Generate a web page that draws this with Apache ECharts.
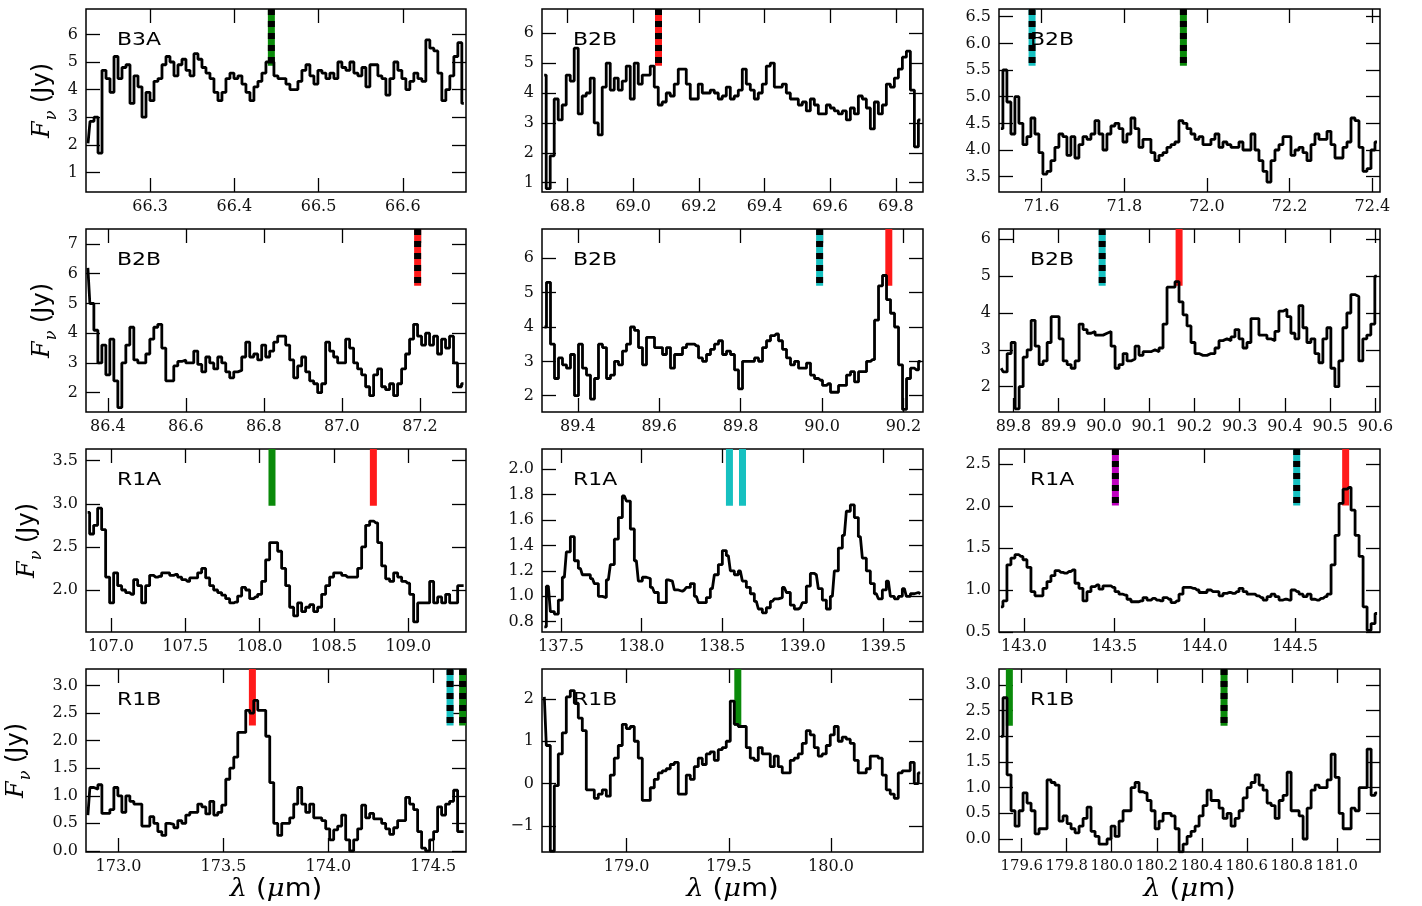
<!DOCTYPE html>
<html><head><meta charset="utf-8">
<script src="https://cdn.jsdelivr.net/npm/echarts@6/dist/echarts.min.js"></script>
<style>html,body{margin:0;padding:0;background:#fff}#c{width:1422px;height:906px}</style>
</head><body><div id="c"></div><script>
// ---------------- DATA ----------------
const panelNames = ['B3A','B2B','B2B','B2B','B2B','B2B','R1A','R1A','R1A','R1B','R1B','R1B'];
// wavelength of first bin (µm) and bin width (µm) per panel
const wlStart = [66.2264, 68.7287, 71.5016, 86.3488, 89.3181, 89.7728, 106.843, 137.3966, 142.8727, 172.854, 178.5973, 179.5081];
const wlStep  = [0.004745, 0.012195, 0.009677, 0.010243, 0.009828, 0.008832, 0.026906, 0.024819, 0.02214, 0.019048, 0.019566, 0.017778];
// axis ranges
const xMin = [66.224, 68.722, 71.497, 86.344, 89.312, 89.768, 106.832, 137.382, 142.862, 172.845, 178.586, 179.499];
const xMax = [66.675, 69.883, 72.4185, 87.318, 90.248, 90.61, 109.388, 139.746, 144.97, 174.656, 180.45, 181.192];
const yMin = [0.29, 0.69, 3.213, 1.35, 1.525, 1.313, 1.513, 0.719, 0.5, -0.02, -1.62, -0.253];
const yMax = [6.92, 6.81, 6.644, 7.505, 6.854, 6.28, 3.636, 2.16, 2.678, 3.30, 2.71, 3.31];
// tick labels
const xTicks = [
  [66.3, 66.4, 66.5, 66.6],
  [68.8, 69.0, 69.2, 69.4, 69.6, 69.8],
  [71.6, 71.8, 72.0, 72.2, 72.4],
  [86.4, 86.6, 86.8, 87.0, 87.2],
  [89.4, 89.6, 89.8, 90.0, 90.2],
  [89.8, 89.9, 90.0, 90.1, 90.2, 90.3, 90.4, 90.5, 90.6],
  [107.0, 107.5, 108.0, 108.5, 109.0],
  [137.5, 138.0, 138.5, 139.0, 139.5],
  [143.0, 143.5, 144.0, 144.5],
  [173.0, 173.5, 174.0, 174.5],
  [179.0, 179.5, 180.0],
  [179.6, 179.8, 180.0, 180.2, 180.4, 180.6, 180.8, 181.0]
];
const yTicks = [
  [1, 2, 3, 4, 5, 6],
  [1, 2, 3, 4, 5, 6],
  [3.5, 4.0, 4.5, 5.0, 5.5, 6.0, 6.5],
  [2, 3, 4, 5, 6, 7],
  [2, 3, 4, 5, 6],
  [2, 3, 4, 5, 6],
  [2.0, 2.5, 3.0, 3.5],
  [0.8, 1.0, 1.2, 1.4, 1.6, 1.8, 2.0],
  [0.5, 1.0, 1.5, 2.0, 2.5],
  [0.0, 0.5, 1.0, 1.5, 2.0, 2.5, 3.0],
  [-1, 0, 1, 2],
  [0.0, 0.5, 1.0, 1.5, 2.0, 2.5, 3.0]
];
const yDecimals = [0, 0, 1, 0, 0, 0, 1, 1, 1, 1, 0, 1];

// flux density (Jy) per bin
const fluxB3A66 = [2.05,2.85,3.0,1.7,4.7,4.4,3.9,5.2,4.4,4.8, 4.9,3.5,4.5,4.1,3.0,3.9,3.6,4.3,4.4,4.9, 5.2,5.0,4.5,4.9,5.1,4.7,4.5,5.3,5.1,4.8, 4.6,4.4,3.9,3.6,3.9,4.4,4.6,4.4,4.5,4.2, 3.9,3.6,4.1,4.3,4.6,5.0,5.0,4.5,4.4,4.4, 4.2,4.0,4.0,4.3,4.7,4.9,4.5,4.2,4.7,4.6, 4.4,4.6,4.4,5.0,4.8,4.7,5.0,4.6,4.5,4.8, 4.1,4.9,4.9,4.5,4.4,3.8,4.4,5.0,4.7,4.4, 4.0,4.3,4.6,4.4,4.3,5.8,5.5,5.4,4.6,3.6, 4.0,4.5,5.2,5.7,3.5];
const fluxB2B69 = [4.6,0.8,1.9,3.8,3.1,3.6,4.6,4.4,5.5,3.3, 3.9,4.0,4.5,3.0,2.6,4.2,5.0,4.1,4.5,4.1, 4.4,4.9,3.8,5.0,4.3,4.6,4.6,4.9,4.2,3.6, 3.7,4.0,3.9,4.3,4.8,4.8,4.3,3.8,3.8,4.3, 4.0,4.0,4.1,4.0,3.8,3.9,4.2,3.8,3.9,4.1, 4.8,4.3,4.1,3.8,4.0,4.3,4.9,5.0,4.2,4.2, 4.3,4.0,3.8,3.8,3.6,3.7,3.4,3.8,3.6,3.3, 3.3,3.6,3.5,3.4,3.3,3.4,3.1,3.5,3.3,3.9, 3.8,3.5,2.8,3.7,3.3,3.6,4.3,4.2,4.5,4.8, 5.2,5.4,4.1,2.2,3.1];
const fluxB2B71 = [4.4,5.5,4.9,4.3,5.0,4.5,4.1,4.25,4.6,4.3, 3.95,3.55,3.6,3.8,4.05,4.3,4.25,3.9,4.25,3.85, 4.1,4.25,4.2,4.3,4.55,4.3,4.0,4.3,4.45,4.5, 4.4,4.15,4.3,4.6,4.4,4.05,4.2,4.2,3.95,3.8, 3.9,3.95,4.05,4.1,4.15,4.55,4.5,4.4,4.3,4.2, 4.25,4.1,4.1,4.2,4.3,4.05,4.15,4.1,4.05,4.05, 4.15,4.0,4.0,4.3,4.0,3.8,3.6,3.4,3.8,4.0, 4.1,4.25,4.25,3.9,4.0,4.05,3.95,3.8,4.1,4.3, 4.2,4.2,4.35,4.1,3.85,3.85,4.05,4.15,4.6,4.55, 4.05,3.6,3.65,4.0,4.15];
const fluxB2B86 = [6.2,5.0,4.1,3.0,3.6,2.6,3.8,2.4,1.5,3.0, 3.6,4.2,3.1,3.0,3.0,3.3,3.8,4.2,4.3,3.5, 2.4,2.4,2.9,3.05,3.1,3.0,3.0,3.4,2.95,2.7, 3.2,3.0,2.8,3.2,3.0,2.7,2.5,2.7,2.75,3.2, 3.7,3.2,3.3,3.1,3.6,3.2,3.4,3.7,3.9,3.9, 3.6,3.1,2.5,2.9,3.2,2.7,2.4,2.3,2.0,2.3, 3.7,3.4,3.2,3.0,3.0,3.8,3.5,3.0,2.8,2.6, 2.2,1.9,2.6,2.8,2.2,2.1,2.3,1.9,2.3,2.8, 3.3,3.8,4.3,3.9,3.6,4.0,3.6,3.9,3.3,3.8, 3.5,3.9,3.0,2.2,2.3];
const fluxB2B89 = [4.0,5.3,3.5,2.5,3.1,2.9,2.8,3.2,2.0,3.5, 2.8,2.6,1.9,2.5,3.5,3.4,2.5,2.6,3.0,2.9, 3.3,3.5,4.0,3.9,3.4,2.9,3.7,3.7,3.4,3.4, 3.2,3.4,2.8,3.2,3.2,3.4,3.5,3.5,3.45,3.1, 3.0,3.2,3.35,3.5,3.6,3.2,3.3,3.2,2.75,2.2, 3.0,3.0,3.0,3.1,3.0,3.4,3.6,3.75,3.8,3.6, 3.35,3.1,2.9,3.0,2.8,2.8,2.95,2.6,2.5,2.45, 2.3,2.35,2.1,2.1,2.3,2.3,2.6,2.7,2.4,2.7, 2.7,3.0,3.05,4.2,5.2,5.5,4.8,4.4,4.0,2.9, 1.6,2.5,2.8,2.75,3.0];
const fluxB2B90 = [2.5,2.4,2.9,3.2,1.4,2.0,2.8,3.0,3.8,3.1, 2.6,2.7,3.2,3.9,3.9,3.3,2.7,2.6,2.5,2.7, 3.7,3.55,3.45,3.5,3.4,3.4,3.45,3.5,3.1,2.5, 2.6,2.9,2.7,2.75,3.1,2.85,2.95,2.95,3.0,2.95, 3.05,3.7,4.7,4.7,4.85,4.3,3.95,3.65,3.2,2.9, 2.85,2.85,2.9,2.9,3.05,3.25,3.3,3.25,3.35,3.55, 3.3,3.05,3.2,3.85,3.85,3.4,3.4,3.3,3.25,3.5, 4.05,4.1,3.9,3.45,3.3,4.2,3.6,3.2,3.3,2.9, 2.65,3.3,3.6,2.5,2.0,2.7,3.6,4.0,4.5,4.45, 2.7,3.3,3.4,3.7,5.0];
const fluxR1A108 = [2.9,2.65,2.75,2.95,2.7,2.15,1.85,2.2,2.05,2.0, 1.97,1.95,2.12,2.05,1.85,2.05,2.17,2.15,2.16,2.2, 2.2,2.17,2.18,2.15,2.12,2.1,2.14,2.14,2.2,2.25, 2.14,2.05,2.0,1.97,1.94,1.9,1.85,1.86,1.93,2.03, 2.0,1.9,1.92,1.95,2.1,2.35,2.55,2.55,2.45,2.25, 2.05,1.8,1.7,1.85,1.75,1.8,1.83,1.75,1.8,1.95, 2.05,2.15,2.2,2.2,2.17,2.15,2.15,2.15,2.25,2.5, 2.75,2.8,2.78,2.55,2.28,2.13,2.1,2.2,2.15,2.1, 2.08,1.95,1.63,1.85,1.85,1.85,2.1,1.85,1.92,1.85, 1.95,1.85,1.85,2.05,2.05];
const fluxR1A138 = [0.76,1.08,0.88,0.86,0.97,1.15,1.35,1.47,1.28,1.22, 1.17,1.17,1.14,1.1,1.0,0.99,1.13,1.25,1.45,1.62, 1.79,1.75,1.53,1.28,1.12,1.15,1.14,1.07,1.03,0.95, 0.95,1.13,1.12,1.05,1.04,1.05,1.07,1.1,1.0,0.95, 0.95,0.99,1.06,1.17,1.25,1.36,1.32,1.2,1.17,1.2, 1.12,1.07,1.02,0.96,0.9,0.87,0.91,0.96,0.98,0.99, 1.07,1.03,0.93,0.9,0.91,0.95,1.08,1.18,1.17,1.06, 0.97,0.9,1.0,1.2,1.38,1.48,1.67,1.72,1.62,1.47, 1.3,1.2,1.1,1.02,0.98,1.05,1.12,1.0,0.98,1.0, 1.06,1.0,1.02,1.03,1.02];
const fluxR1A144 = [0.8,0.87,1.3,1.38,1.42,1.4,1.36,1.27,0.98,0.93, 0.93,1.02,1.1,1.17,1.23,1.21,1.2,1.22,1.24,1.08, 1.02,0.87,0.98,1.04,1.06,1.01,1.05,1.05,1.03,0.98, 0.95,0.94,0.89,0.86,0.86,0.87,0.91,0.88,0.9,0.88, 0.87,0.91,0.89,0.85,0.87,0.95,1.03,1.03,1.02,1.0, 0.97,0.97,1.0,0.98,0.98,0.93,0.96,0.97,0.96,0.98, 1.02,0.98,0.95,0.95,0.93,0.91,0.88,0.92,0.95,0.92, 0.88,0.89,0.88,1.0,0.98,0.95,0.92,0.95,0.89,0.88, 0.9,0.92,0.95,1.3,1.65,2.03,2.2,2.22,1.95,1.65, 1.4,0.8,0.52,0.6,0.72];
const fluxR1B174 = [0.65,1.15,1.12,1.2,0.68,0.68,0.75,1.15,1.0,0.7, 1.0,0.9,0.85,0.85,0.45,0.45,0.62,0.5,0.35,0.28, 0.5,0.48,0.42,0.55,0.5,0.65,0.7,0.7,0.85,0.8, 0.67,0.9,0.65,0.7,0.83,1.3,1.5,1.7,2.15,2.15, 2.55,2.5,2.73,2.55,2.55,2.08,1.24,0.5,0.28,0.5, 0.5,0.6,0.85,1.15,0.85,0.7,0.85,0.6,0.6,0.55, 0.4,0.2,0.38,0.45,0.65,0.2,0.0,0.2,0.4,0.83, 0.6,0.68,0.58,0.58,0.5,0.4,0.3,0.42,0.55,0.55, 0.97,0.85,0.75,0.35,0.05,0.0,0.2,0.35,0.8,0.65, 0.85,0.9,1.1,0.35,0.35];
const fluxR1B179 = [2.05,0.9,-1.6,-0.05,0.7,1.2,2.05,2.2,1.9,1.55, 1.25,-0.15,-0.15,-0.35,-0.25,-0.15,-0.3,0.2,0.6,0.9, 1.4,1.3,1.35,1.0,0.6,-0.4,-0.4,-0.1,0.1,0.25, 0.3,0.35,0.45,0.5,-0.25,-0.25,0.2,0.1,0.4,0.6, 0.45,0.7,0.75,0.55,0.8,0.85,1.0,1.95,1.4,1.35, 1.35,0.85,0.6,0.55,0.85,0.7,0.7,0.4,0.65,0.4, 0.25,0.25,0.55,0.6,0.7,0.95,1.25,1.15,0.85,0.65, 0.7,0.9,1.15,1.35,1.0,1.1,1.05,0.95,0.55,0.25, 0.25,0.35,0.65,0.65,0.6,0.2,-0.15,-0.25,-0.35,0.25, 0.3,0.3,0.5,0.0,0.25];
const fluxR1B180 = [2.0,2.75,1.25,0.55,0.25,0.55,0.9,0.7,0.55,0.1, 0.2,0.2,1.15,1.1,1.05,0.35,0.45,0.3,0.2,0.12, 0.25,0.4,0.62,0.15,0.05,-0.1,-0.1,0.0,0.25,0.05, 0.35,0.55,0.55,1.0,1.1,0.92,0.9,0.75,0.55,0.2, 0.35,0.5,0.5,0.45,0.2,-0.25,-0.1,0.05,0.15,0.25, 0.45,0.65,0.95,0.75,0.75,0.6,0.4,0.5,0.25,0.4, 0.55,0.8,1.0,1.1,1.25,1.05,0.95,0.7,0.65,0.4, 0.75,0.85,1.3,0.55,0.55,0.45,0.0,0.6,0.95,1.05, 1.0,1.0,1.15,1.65,1.2,0.5,0.2,0.2,0.6,0.55, 1.0,1.0,1.75,0.85,0.9];
const fluxes = [fluxB3A66, fluxB2B69, fluxB2B71, fluxB2B86, fluxB2B89, fluxB2B90, fluxR1A108, fluxR1A138, fluxR1A144, fluxR1B174, fluxR1B179, fluxR1B180];

// line identification markers
const markerPanel   = [0, 1, 2, 2, 3, 4, 4, 5, 5, 6, 6, 7, 7, 8, 8, 8, 9, 9, 9, 10, 11, 11];
const markerWave    = [66.444, 69.077, 71.577, 71.943, 87.194, 89.994, 90.164, 89.996, 90.166, 108.083, 108.765, 138.545, 138.626, 143.506, 144.509, 144.78, 173.638, 174.58, 174.64, 179.544, 179.545, 180.499];
const markerLow     = [4.86, 4.915, 5.58, 5.58, 5.6, 5.2, 5.2, 4.74, 4.74, 2.978, 2.978, 1.713, 1.713, 2.005, 2.005, 2.005, 2.273, 2.273, 2.273, 1.367, 2.207, 2.207];
const markerSpecies = ['g','r','c','g','r','c','r','c','r','g','r','c','c','m','c','r','r','c','g','g','g','g'];
const markerDashed  = [1, 1, 1, 1, 1, 1, 0, 1, 0, 0, 0, 0, 0, 1, 1, 0, 0, 1, 1, 0, 0, 1];

// ---------------- LAYOUT / STYLE ----------------
const speciesColor = { g: '#0a8a0a', r: '#ff1a1a', c: '#16c0c0', m: '#c000c0' };
const gridLeft = [86, 542, 999], gridWidth = [380, 381, 381];
const gridTop = [9, 229, 449, 669], gridHeight = 183;
const yTitleX = [45, 45, 30, 19];
const xLabelSize = [16, 16, 16, 16, 16, 16, 16, 16, 16, 16, 16, 14.8];
const tickFont = 'DejaVu Serif';
const fmt = (v, d) => { let s = (Math.abs(v) < 1e-9 ? 0 : v).toFixed(d); return s.replace('-', '\u2212'); };

const grids = [], xAxes = [], yAxes = [], series = [], graphics = [];
for (let p = 0; p < 12; p++) {
  const r = Math.floor(p / 3), c = p % 3;
  grids.push({ left: gridLeft[c], top: gridTop[r], width: gridWidth[c], height: gridHeight,
    show: true, borderColor: '#000', borderWidth: 1.5, backgroundColor: 'transparent' });
  const tick = { inside: true, length: 14, lineStyle: { color: '#000', width: 1.3 }, customValues: xTicks[p] };
  const xBase = { gridIndex: p, type: 'value', min: xMin[p], max: xMax[p], axisLine: { show: false, onZero: false }, splitLine: { show: false } };
  xAxes.push(Object.assign({}, xBase, { position: 'bottom', axisTick: tick,
    axisLabel: { customValues: xTicks[p], formatter: v => fmt(v, 1), margin: 7, fontFamily: tickFont, fontSize: xLabelSize[p], color: '#111',
      hideOverlap: false, showMinLabel: true, showMaxLabel: true } }));
  xAxes.push(Object.assign({}, xBase, { position: 'top', axisTick: tick, axisLabel: { show: false } }));
  const ytick = { inside: true, length: 14, lineStyle: { color: '#000', width: 1.3 }, customValues: yTicks[p] };
  const yBase = { gridIndex: p, type: 'value', min: yMin[p], max: yMax[p], axisLine: { show: false, onZero: false }, splitLine: { show: false } };
  yAxes.push(Object.assign({}, yBase, { position: 'left', axisTick: ytick,
    axisLabel: { customValues: yTicks[p], formatter: v => fmt(v, yDecimals[p]), margin: 8, fontFamily: tickFont, fontSize: 16, color: '#111',
      hideOverlap: false, showMinLabel: true, showMaxLabel: true } }));
  yAxes.push(Object.assign({}, yBase, { position: 'right', axisTick: ytick, axisLabel: { show: false } }));

  series.push({ type: 'line', xAxisIndex: 2 * p, yAxisIndex: 2 * p, step: 'middle', symbol: 'none', silent: true,
    clip: true, z: 5, lineStyle: { color: '#000', width: 2.8 },
    data: fluxes[p].map((f, i) => [wlStart[p] + i * wlStep[p], f]) });

  graphics.push({ type: 'text', x: gridLeft[c] + 31, y: gridTop[r] + 31, scaleX: 1.22, z: 20,
    style: { text: panelNames[p], font: '18px "DejaVu Sans"', fill: '#000', align: 'left', verticalAlign: 'middle', textAlign: 'left', textVerticalAlign: 'middle' } });
}
for (let k = 0; k < markerPanel.length; k++) {
  const p = markerPanel[k];
  const pts = [[markerWave[k], yMax[p]], [markerWave[k], markerLow[k]]];
  series.push({ type: 'line', xAxisIndex: 2 * p, yAxisIndex: 2 * p, symbol: 'none', silent: true, clip: true, z: 2,
    lineStyle: { color: speciesColor[markerSpecies[k]], width: 7, cap: 'butt' }, data: pts });
  if (markerDashed[k]) {
    series.push({ type: 'line', xAxisIndex: 2 * p, yAxisIndex: 2 * p, symbol: 'none', silent: true, clip: true, z: 3,
      lineStyle: { color: '#000', width: 7, type: [6, 6], cap: 'butt' }, data: pts });
  }
}
// y-axis titles (left column)
for (let r = 0; r < 4; r++) {
  graphics.push({ type: 'text', x: yTitleX[r], y: gridTop[r] + gridHeight / 2, rotation: Math.PI / 2, z: 20,
    style: { text: '{f|F}{s|\u03bd}{j| (Jy)}', align: 'center', verticalAlign: 'middle', textAlign: 'center', textVerticalAlign: 'middle',
      rich: {
        f: { fontFamily: 'DejaVu Serif', fontStyle: 'italic', fontSize: 24, verticalAlign: 'bottom', padding: [0, 0, 5, 0], fill: '#000', color: '#000' },
        s: { fontFamily: 'DejaVu Serif', fontStyle: 'italic', fontSize: 16, verticalAlign: 'bottom', padding: [0, 0, 0, 1], fill: '#000', color: '#000' },
        j: { fontFamily: 'DejaVu Sans', fontSize: 24, verticalAlign: 'bottom', padding: [0, 0, 5, 0], fill: '#000', color: '#000' }
      } } });
}
// x-axis titles (bottom row)
for (let c = 0; c < 3; c++) {
  graphics.push({ type: 'text', x: gridLeft[c] + gridWidth[c] / 2, y: 889, scaleX: 1.1, z: 20,
    style: { text: '{g|\u03bb}{n| (}{g|\u03bc}{n|m)}', align: 'center', verticalAlign: 'middle', textAlign: 'center', textVerticalAlign: 'middle',
      rich: {
        g: { fontFamily: 'DejaVu Serif', fontStyle: 'italic', fontSize: 25, fill: '#000', color: '#000' },
        n: { fontFamily: 'DejaVu Sans', fontSize: 25, fill: '#000', color: '#000' }
      } } });
}

const chart = echarts.init(document.getElementById('c'), null, { renderer: 'canvas' });
chart.setOption({ animation: false, backgroundColor: '#fff', grid: grids, xAxis: xAxes, yAxis: yAxes, series: series, graphic: graphics });
</script></body></html>
